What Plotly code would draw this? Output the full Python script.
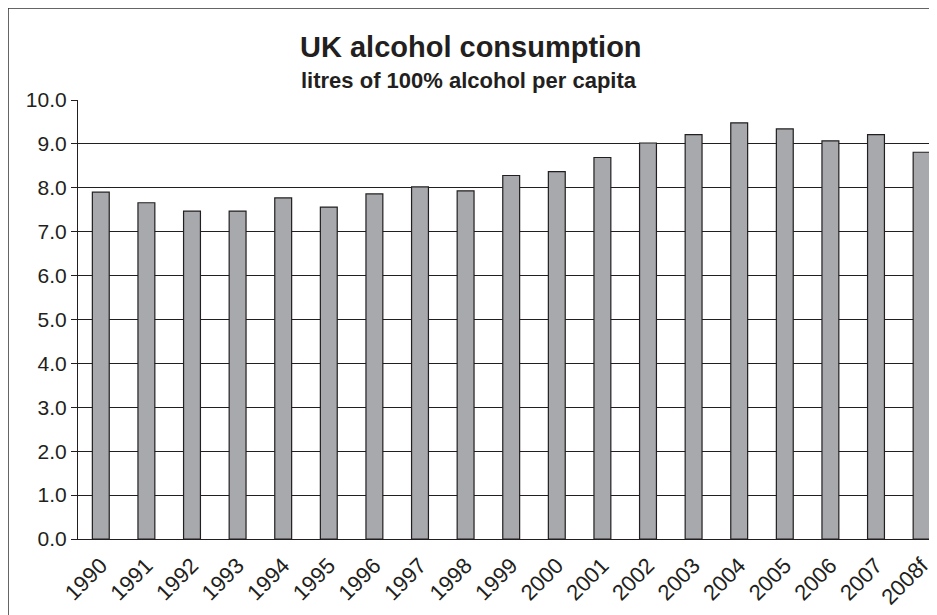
import plotly.graph_objects as go

years = ["1990", "1991", "1992", "1993", "1994", "1995", "1996", "1997", "1998", "1999",
         "2000", "2001", "2002", "2003", "2004", "2005", "2006", "2007", "2008f"]
litres = [7.90, 7.66, 7.47, 7.47, 7.77, 7.56, 7.86, 8.02, 7.93, 8.28,
          8.37, 8.69, 9.02, 9.21, 9.48, 9.34, 9.07, 9.21, 8.81]
y_ticks = [0, 1, 2, 3, 4, 5, 6, 7, 8, 9, 10]
y_tick_text = [f"{v:.1f}" for v in y_ticks]

FONT = "Arial, Liberation Sans, sans-serif"
DARK = "#231F20"

fig = go.Figure(go.Bar(
    x=years, y=litres,
    marker=dict(color="#A7A9AC", line=dict(color=DARK, width=1.2)),
))

OFF = 8  # page body margin
W, H = 937 - OFF, 615 - OFF
L, T = 78 - OFF, 100 - OFF
R = 0
B = H - (539 - OFF)
pw = W - L - R
ph = H - T - B

def px_to_paper_x(px):
    return (px - OFF - L) / pw

def px_to_paper_y(py):
    return (539 - py) / ph

fig.update_layout(
    width=W, height=H,
    margin=dict(l=L, r=R, t=T, b=B, pad=0),
    paper_bgcolor="white", plot_bgcolor="white",
    bargap=0.63,
    showlegend=False,
    font=dict(family=FONT, color=DARK),
    xaxis=dict(
        type="category",
        range=[-0.5, -0.5 + (937 - 78) / 45.6],
        tickangle=-45,
        tickfont=dict(size=22, family=FONT, color=DARK),
        showgrid=False,
        showline=True, linecolor=DARK, linewidth=1,
        ticks="outside", ticklen=4, tickcolor="rgba(0,0,0,0)",
        zeroline=False,
    ),
    yaxis=dict(
        range=[0, 10],
        tickvals=y_ticks, ticktext=y_tick_text,
        tickfont=dict(size=21, family=FONT, color=DARK),
        showgrid=True, gridcolor=DARK, gridwidth=1.2,
        showline=True, linecolor=DARK, linewidth=1.2,
        ticks="outside", ticklen=6, tickcolor=DARK, tickwidth=1.2,
        zeroline=False,
    ),
    annotations=[
        dict(text="<b>UK alcohol consumption</b>", xref="paper", yref="paper",
             x=px_to_paper_x(471), y=px_to_paper_y(47), xanchor="center", yanchor="middle",
             showarrow=False, font=dict(size=29, family=FONT, color=DARK)),
        dict(text="<b>litres of 100% alcohol per capita</b>", xref="paper", yref="paper",
             x=px_to_paper_x(469), y=px_to_paper_y(81), xanchor="center", yanchor="middle",
             showarrow=False, font=dict(size=22, family=FONT, color=DARK)),
    ],
    shapes=[
        dict(type="rect", xref="paper", yref="paper",
             x0=px_to_paper_x(8), x1=px_to_paper_x(960),
             y0=px_to_paper_y(640), y1=px_to_paper_y(8),
             line=dict(color="#333333", width=1.5), fillcolor="rgba(0,0,0,0)", layer="above"),
    ],
)

fig.write_html("out.html")
